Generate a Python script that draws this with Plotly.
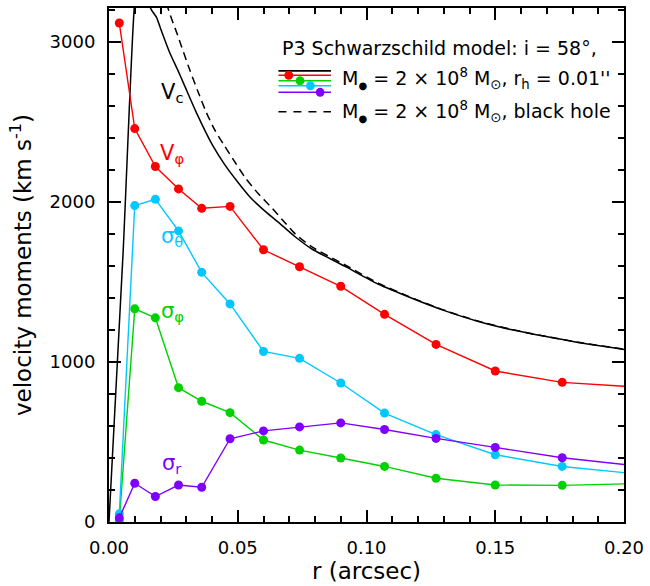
import plotly.graph_objects as go

# Radii of the model grid (arcsec); the last one lies just past the plotted range
r_grid = [0.004, 0.010, 0.018, 0.027, 0.036, 0.047, 0.060, 0.074, 0.090,
          0.107, 0.127, 0.150, 0.176, 0.205]

# Velocity moments (km/s) for M_bh = 2e8 Msun, r_h = 0.01"
v_phi = [3116, 2457, 2220, 2080, 1959, 1971, 1700, 1594, 1472, 1297, 1109, 943, 872, 843]
sigma_theta = [51, 1976, 2015, 1818, 1559, 1362, 1065, 1022, 868, 680, 546, 420, 347, 300]
sigma_phi = [10, 1331, 1275, 839, 754, 683, 512, 449, 400, 347, 273, 231, 229, 240]
sigma_r = [26, 242, 159, 231, 217, 520, 569, 594, 619, 578, 522, 466, 401, 350]

# Circular velocity, softened central mass (r_h = 0.01")
vc_soft_r = [0.0, 0.0055, 0.0098, 0.0125, 0.0161, 0.0185, 0.0203, 0.0235, 0.0265,
             0.0293, 0.0338, 0.0402, 0.0450, 0.0499, 0.0550, 0.0608, 0.0665,
             0.0724, 0.0788, 0.0917, 0.1045, 0.1174, 0.1303, 0.1431, 0.1560,
             0.1688, 0.1817, 0.2000]
vc_soft = [0, 1690, 3210, 3600, 3210, 3150, 3069, 2934, 2830,
           2727, 2561, 2353, 2230, 2125, 2025, 1938, 1862,
           1780, 1705, 1596, 1486, 1399, 1320, 1254, 1202,
           1161, 1123, 1078]

# Circular velocity, point-mass black hole
vc_bh_r = [0.0205, 0.0229, 0.0267, 0.0312, 0.0345, 0.0377, 0.0410, 0.0447,
           0.0490, 0.0531, 0.0580, 0.0634, 0.0680, 0.0724, 0.0788, 0.0917,
           0.1045, 0.1174, 0.1303, 0.1431, 0.1560, 0.1688, 0.1817, 0.2000]
vc_bh = [3400, 3210, 3038, 2830, 2690, 2561, 2450, 2353,
         2245, 2146, 2050, 1959, 1875, 1798, 1718, 1605,
         1492, 1402, 1322, 1256, 1204, 1162, 1124, 1079]

RED = "#ff0000"
GREEN = "#00d200"
CYAN = "#00c8ff"
PURPLE = "#8000ff"
FONT = "DejaVu Sans"

fig = go.Figure()

fig.add_trace(go.Scatter(x=vc_soft_r, y=vc_soft, mode="lines",
                         line=dict(color="black", width=1.5, shape="spline", smoothing=0.6),
                         showlegend=False))
fig.add_trace(go.Scatter(x=vc_bh_r, y=vc_bh, mode="lines",
                         line=dict(color="black", width=1.5, dash="8px,5px",
                                   shape="spline", smoothing=0.6),
                         showlegend=False))

for vals, col in [(sigma_phi, GREEN), (sigma_theta, CYAN), (sigma_r, PURPLE), (v_phi, RED)]:
    fig.add_trace(go.Scatter(x=r_grid, y=vals, mode="lines+markers",
                             line=dict(color=col, width=1.4),
                             marker=dict(color=col, size=9),
                             showlegend=False))

# Curve labels
curve_labels = [
    ("V<sub>c</sub>", "black", 0.0245, 2680),
    ("V<sub>φ</sub>", RED, 0.0245, 2300),
    ("σ<sub>θ</sub>", CYAN, 0.0245, 1780),
    ("σ<sub>φ</sub>", GREEN, 0.0245, 1310),
    ("σ<sub>r</sub>", PURPLE, 0.0245, 360),
]
for txt, col, x, y in curve_labels:
    fig.add_annotation(x=x, y=y, text=txt, showarrow=False,
                       font=dict(family=FONT, size=21, color=col))

# Key in the upper right corner
BH = "M<sub><span style='font-size:10px'>●</span></sub>"
SUN = "M<sub>⊙</sub>"
fig.add_annotation(xref="paper", yref="paper", x=0.332, y=0.9225, xanchor="left",
                   yanchor="middle", showarrow=False,
                   text="P3 Schwarzschild model: i = 58°,",
                   font=dict(family=FONT, size=19, color="black"))
fig.add_annotation(xref="paper", yref="paper", x=0.449, y=0.863, xanchor="left",
                   yanchor="middle", showarrow=False,
                   text=BH + " = 2 × 10<sup>8</sup> " + SUN + ", r<sub>h</sub> = 0.01''",
                   font=dict(family=FONT, size=19, color="black"))
fig.add_annotation(xref="paper", yref="paper", x=0.449, y=0.798, xanchor="left",
                   yanchor="middle", showarrow=False,
                   text=BH + " = 2 × 10<sup>8</sup> " + SUN + ", black hole",
                   font=dict(family=FONT, size=19, color="black"))

key_x0, key_x1 = 0.329, 0.431
key_rows = [("black", 0.8777, None), (RED, 0.8692, 0.349), (GREEN, 0.8584, 0.371),
            (CYAN, 0.8487, 0.391), (PURPLE, 0.8360, 0.410)]
shapes = []
for col, yy, dot in key_rows:
    shapes.append(dict(type="line", xref="paper", yref="paper", x0=key_x0, x1=key_x1,
                       y0=yy, y1=yy, line=dict(color=col, width=1.6)))
    if dot is not None:
        shapes.append(dict(type="circle", xref="paper", yref="paper",
                           x0=dot - 0.0085, x1=dot + 0.0085, y0=yy - 0.0087, y1=yy + 0.0087,
                           fillcolor=col, line=dict(color=col, width=0)))
shapes.append(dict(type="line", xref="paper", yref="paper", x0=key_x0, x1=key_x1,
                   y0=0.798, y1=0.798, line=dict(color="black", width=1.5, dash="8px,7px")))

fig.update_layout(
    width=650, height=586,
    margin=dict(l=109, r=22, t=6, b=64),
    paper_bgcolor="white", plot_bgcolor="white",
    font=dict(family=FONT, size=18, color="black"),
    shapes=shapes,
    xaxis=dict(range=[0, 0.2], tickvals=[0, 0.05, 0.1, 0.15, 0.2],
               ticktext=["0.00", "0.05", "0.10", "0.15", "0.20"],
               ticks="inside", ticklen=12, tickwidth=1.5, tickcolor="black",
               minor=dict(ticks="inside", ticklen=6, dtick=0.01, tickwidth=1.5,
                          tickcolor="black", showgrid=False),
               showline=True, linewidth=2, linecolor="black", mirror="allticks",
               showgrid=False, zeroline=False, ticklabelstandoff=8,
               tickfont=dict(size=18),
               title=dict(text="r (arcsec)", font=dict(size=23), standoff=4)),
    yaxis=dict(range=[0, 3210], tickvals=[0, 1000, 2000, 3000],
               ticks="inside", ticklen=12, tickwidth=1.5, tickcolor="black",
               minor=dict(ticks="inside", ticklen=6, dtick=200, tickwidth=1.5,
                          tickcolor="black", showgrid=False),
               showline=True, linewidth=2, linecolor="black", mirror="allticks",
               showgrid=False, zeroline=False, ticklabelstandoff=8,
               tickfont=dict(size=18),
               title=dict(text="velocity moments (km s<sup>-1</sup>)",
                          font=dict(size=23), standoff=12)),
)

fig.write_html("out.html")
